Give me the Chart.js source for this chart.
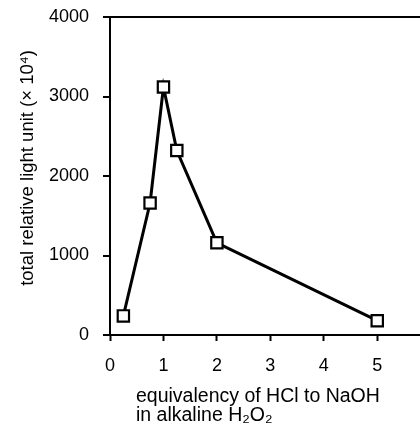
<!DOCTYPE html>
<html>
<head>
<meta charset="utf-8">
<script src="https://cdn.jsdelivr.net/npm/chart.js@4/dist/chart.umd.min.js"></script>
<style>
  html, body { margin: 0; padding: 0; background: #fff; }
  canvas { display: block; }
</style>
</head>
<body>
<canvas id="chart" width="420" height="429"></canvas>
<script>
// equivalency of HCl to NaOH vs total relative light unit (x 10^4)
const equivalency = [0.25, 0.75, 1, 1.25, 2, 5];
const lightUnit = [240, 1660, 3120, 2320, 1160, 180];
const xTicks = [0, 1, 2, 3, 4, 5];
const yTicks = [0, 1000, 2000, 3000, 4000];

const yTitle = "total relative light unit (× 10⁴)";
const xTitle = ["equivalency of HCl to NaOH", "in alkaline H₂O₂"];

const FONT = "'Liberation Sans', Arial, Helvetica, sans-serif";

// axis titles drawn by hand: the x title is left aligned on two lines
const titlesPlugin = {
    id: "titles",
    afterDraw(chart) {
        const ctx = chart.ctx;
        ctx.save();
        ctx.fillStyle = "#000";
        ctx.font = "18.5px " + FONT;
        ctx.textBaseline = "alphabetic";

        // y title, rotated
        ctx.save();
        ctx.translate(33, 168);
        ctx.rotate(-Math.PI / 2);
        ctx.textAlign = "center";
        ctx.fillText(yTitle, 0, 0);
        ctx.restore();

        // x title
        ctx.font = "19.5px " + FONT;
        ctx.textAlign = "left";
        ctx.fillText(xTitle[0], 136, 402);
        ctx.fillText(xTitle[1], 136, 421);
        ctx.restore();
    }
};

new Chart(document.getElementById("chart"), {
    type: "scatter",
    data: {
        datasets: [{
            data: equivalency.map((x, i) => ({ x: x, y: lightUnit[i] })),
            showLine: true,
            borderColor: "#000",
            borderWidth: 3,
            pointStyle: "rect",
            pointRadius: 8,
            pointBorderWidth: 2.2,
            pointBackgroundColor: "#fff",
            pointBorderColor: "#000"
        }]
    },
    options: {
        responsive: false,
        animation: false,
        layout: { autoPadding: false, padding: { top: 17, right: 0, left: 0, bottom: 0 } },
        plugins: {
            legend: { display: false },
            tooltip: { enabled: false }
        },
        scales: {
            x: {
                type: "linear",
                min: 0,
                max: 5.8,
                afterBuildTicks: s => { s.ticks = xTicks.map(v => ({ value: v })); },
                afterFit: s => { s.height = 94; s.paddingLeft = 0; s.paddingRight = 0; },
                border: { display: true, color: "#000", width: 2 },
                grid: {
                    color: "transparent",
                    tickColor: "#000",
                    tickLength: 6,
                    tickWidth: 2
                },
                ticks: {
                    color: "#000",
                    font: { family: FONT, size: 18 },
                    padding: 14,
                    callback: v => String(v)
                }
            },
            y: {
                min: 0,
                max: 4000,
                afterBuildTicks: s => { s.ticks = yTicks.map(v => ({ value: v })); },
                afterFit: s => { s.width = 110; s.paddingTop = 0; s.paddingBottom = 0; },
                border: { display: true, color: "#000", width: 2 },
                grid: {
                    color: c => (c.tick && c.tick.value === 4000 ? "#000" : "transparent"),
                    lineWidth: 2,
                    tickColor: "#000",
                    tickLength: 7,
                    tickWidth: 2
                },
                ticks: {
                    color: "#000",
                    font: { family: FONT, size: 18 },
                    padding: 14,
                    callback: v => String(v)
                }
            }
        }
    },
    plugins: [titlesPlugin]
});
</script>
</body>
</html>
